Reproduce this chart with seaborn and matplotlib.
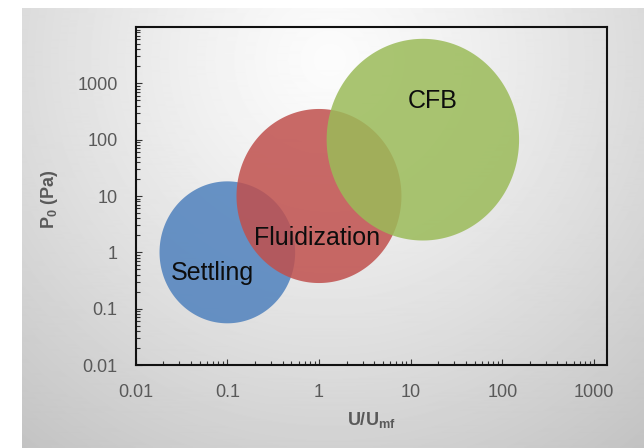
import numpy as np
import matplotlib
matplotlib.use("Agg")
import matplotlib.pyplot as plt
import seaborn as sns
from matplotlib.ticker import FixedLocator, LogLocator, NullFormatter, FuncFormatter

# ---------------- data ----------------
regimes = ["Settling", "Fluidization", "CFB"]
center_x = [0.1, 1.0, 13.6]            # U/Umf at ellipse centre
center_y = [1.0, 10.0, 100.0]          # P0 (Pa) at ellipse centre
half_width_dec = [0.74, 0.90, 1.05]    # half width in decades of U/Umf
half_height_dec = [1.26, 1.545, 1.79]  # half height in decades of P0
label_x = [0.068, 0.95, 17.5]
label_y = [0.43, 1.8, 490.0]
regime_colors = ["#4F81BD", "#C0504D", "#9BBB59"]
xticks = [0.01, 0.1, 1, 10, 100, 1000]
yticks = [0.01, 0.1, 1, 10, 100, 1000]

# ---------------- style ----------------
sns.set_style("white")
plt.rcParams["font.family"] = ["Liberation Sans", "DejaVu Sans"]
plt.rcParams["mathtext.fontset"] = "custom"
plt.rcParams["mathtext.rm"] = "Liberation Sans"
plt.rcParams["mathtext.bf"] = "Liberation Sans:bold"

fig = plt.figure(figsize=(6.44, 4.48), dpi=100)
fig.patch.set_facecolor("white")

# gradient background panel
bg = fig.add_axes([22 / 644, 0, 622 / 644, 440 / 448])
W, H = 622, 440
xx, yy = np.meshgrid(np.arange(W) + 22, np.arange(H) + 8)
d = np.hypot(xx - 330, yy - 60)
v = 252 - 58 * (d / 500) ** 1.2
bg.imshow(v, cmap="gray", vmin=0, vmax=255, aspect="auto",
          extent=[0, 1, 0, 1], origin="upper", interpolation="bilinear")
bg.axis("off")

# main axes
ax = fig.add_axes([135.7 / 644, 83 / 448, (607 - 135.7) / 644, (365 - 27) / 448])
ax.patch.set_alpha(0)
ax.set_xscale("log")
ax.set_yscale("log")

t = np.linspace(0, 2 * np.pi, 400)
for i, name in enumerate(regimes):
    lx = np.log10(center_x[i]) + half_width_dec[i] * np.cos(t)
    ly = np.log10(center_y[i]) + half_height_dec[i] * np.sin(t)
    ax.fill(10 ** lx, 10 ** ly, color=regime_colors[i], alpha=0.85, lw=0, zorder=2 + i)
    ax.text(label_x[i], label_y[i], name, fontsize=18, color="#0d0d0d",
            ha="center", va="center", zorder=10)

ax.set_xlim(0.01, 1390)
ax.set_ylim(0.01, 10000)

fmt = FuncFormatter(lambda val, pos: f"{val:g}")
for axis, ticks in ((ax.xaxis, xticks), (ax.yaxis, yticks)):
    axis.set_major_locator(FixedLocator(ticks))
    axis.set_major_formatter(fmt)
    axis.set_minor_locator(LogLocator(base=10, subs=np.arange(2, 10), numticks=20))
    axis.set_minor_formatter(NullFormatter())

ax.tick_params(which="both", direction="in", bottom=True, left=True, top=False,
               right=False, color="#333333", width=0.8)
ax.tick_params(which="major", length=4, labelsize=13, labelcolor="#595959")
ax.tick_params(which="minor", length=3)
ax.tick_params(axis="x", which="major", pad=14)
ax.tick_params(axis="y", which="major", pad=13)

for s in ax.spines.values():
    s.set_visible(True)
    s.set_color("#111111")
    s.set_linewidth(1.5)

ax.set_xlabel("U/U$_\\mathbf{mf}$", fontsize=13, fontweight="bold", color="#595959")
ax.xaxis.set_label_coords(0.5, (365 - 420) / 338)
ax.xaxis.label.set_va("center")
ax.set_ylabel("P$_\\mathbf{0}$ (Pa)", fontsize=13, fontweight="bold", color="#595959")
ax.yaxis.set_label_coords((50 - 135.7) / 471.3, 0.49)
ax.yaxis.label.set_va("center")
ax.yaxis.label.set_ha("center")

fig.savefig("out.png", dpi=100)
